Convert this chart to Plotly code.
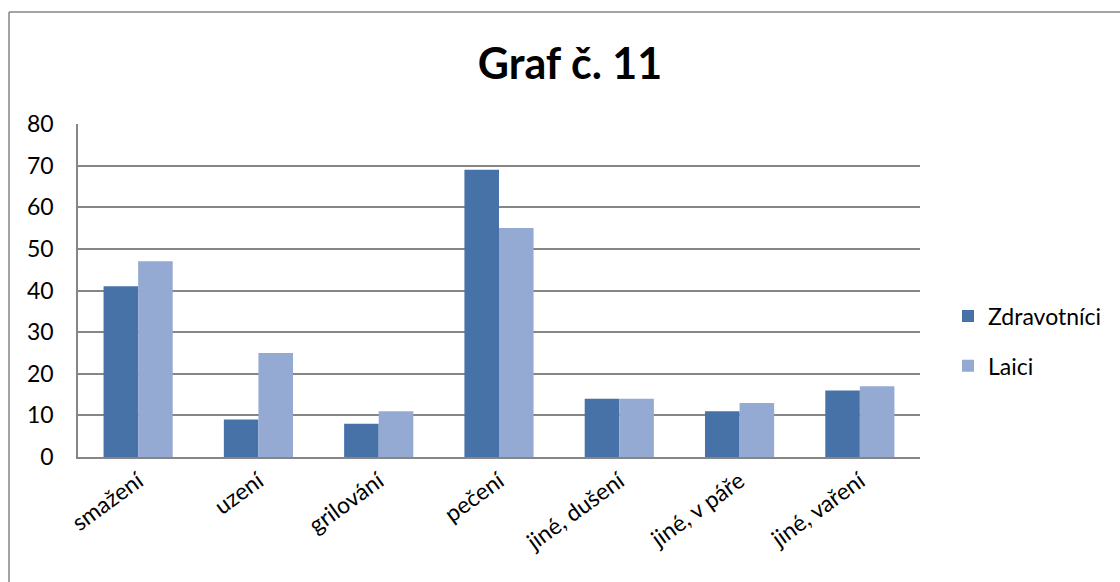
import plotly.graph_objects as go

categories = ["smažení", "uzení", "grilování", "pečení", "jiné, dušení", "jiné, v páře", "jiné, vaření"]
zdravotnici = [41, 9, 8, 69, 14, 11, 16]
laici = [47, 25, 11, 55, 14, 13, 17]
y_ticks = [0, 10, 20, 30, 40, 50, 60, 70, 80]

FONT = "Lato, 'Open Sans', sans-serif"
GRID = "#868686"

fig = go.Figure()
fig.add_trace(go.Bar(x=categories, y=zdravotnici, name="Zdravotníci",
                     marker=dict(color="#4672A8", line=dict(width=0)),
                     legendgroup="a"))
fig.add_trace(go.Bar(x=categories, y=laici, name="Laici",
                     marker=dict(color="#95AAD3", line=dict(width=0)),
                     legendgroup="b"))

# plot area spans x 78..920 px and y 124..457 px
PW, PH = 842, 333

fig.update_layout(
    width=1120, height=582,
    paper_bgcolor="white", plot_bgcolor="white",
    margin=dict(l=78, r=200, t=124, b=125),
    barmode="group", bargap=0.425, bargroupgap=0,
    font=dict(family=FONT, size=23, color="black"),
    title=dict(text="<b>Graf č. 11</b>", x=(570 - 78) / PW, xanchor="center",
               y=1 - 64 / 582, yanchor="middle", xref="paper",
               font=dict(size=43, family=FONT, color="black")),
    xaxis=dict(tickangle=-36, showgrid=False, showline=True, linecolor=GRID,
               linewidth=1.5, ticks="", tickfont=dict(size=23), mirror=False),
    yaxis=dict(range=[0, 80], tickvals=y_ticks, showgrid=True, gridcolor=GRID,
               gridwidth=1.5, showline=True, linecolor=GRID, linewidth=1.5,
               ticks="", tickfont=dict(size=23), zeroline=False, ticklabelstandoff=18),
    legend=dict(x=(948 - 78) / PW, y=(457 - 341) / PH, xanchor="left", yanchor="middle",
                font=dict(size=23), tracegroupgap=17, itemwidth=30,
                traceorder="grouped"),
    shapes=[
        # chart frame: left and top edges
        dict(type="line", xref="paper", yref="paper",
             x0=(9 - 78) / PW, x1=(9 - 78) / PW, y0=-0.5, y1=(457 - 12) / PH,
             line=dict(color=GRID, width=1.5)),
        dict(type="line", xref="paper", yref="paper",
             x0=(9 - 78) / PW, x1=(1125 - 78) / PW, y0=(457 - 12) / PH, y1=(457 - 12) / PH,
             line=dict(color=GRID, width=1.5)),
    ],
)

fig.write_html("out.html")
